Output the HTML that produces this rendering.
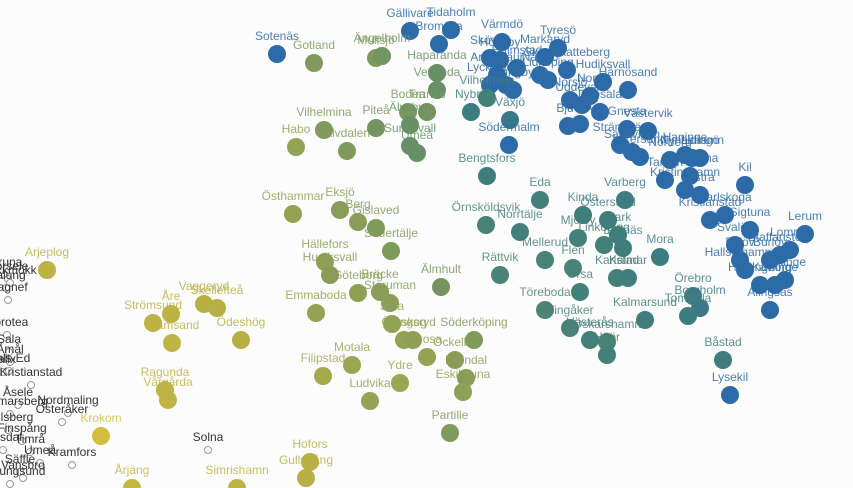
<!DOCTYPE html>
<html>
<head>
<meta charset="utf-8">
<style>
html,body{margin:0;padding:0;background:#fcfcfc;}
svg{display:block;font-family:"Liberation Sans",sans-serif;}
</style>
</head>
<body>
<svg id="chart" width="853" height="488"></svg>
<script>
const names = ["Sotenäs","Tidaholm","Gällivare","Bromölla","Värmdö","Tyresö","Markaryd","Skövde","Högsby","Halmstad","Skinnskatteberg","Nässjö","Lidköping","Arvidsjaur","Lycksele","Kumla","Ljungby","Hudiksvall","Härnösand","Nora","Norsjö","Uddevalla","Uppsala","Bjuv","Vara","Södermalm","Gnesta","Västervik","Strängnäs","Sandviken","Vikersund","Haninge","Nynäshamn","Norberg","Lidingö","Tanum","Sollentuna","Kristinehamn","Östra","Kil","Kristianstad","Karlskoga","Sigtuna","Lerum","Svalöv","Eslöv","Hallstahammar","Burlöv","Staffanstorp","Lomma","Helsingborg","Kävlinge","Vellinge","Alingsås","Lysekil",
"Nybro","Växjö","Vilhelmina2","Bengtsfors","Eda","Örnsköldsvik","Norrtälje","Rättvik","Mellerud","Kinda","Varberg","Mjölby","Östersund","Mark","Linköping","Bollnäs","Mora","Karlstad","Kalmar","Flen","Orsa","Töreboda","Vingåker","Västerås","Oskarshamn","Höör","Kalmarsund","Örebro","Tomelilla","Borgholm","Båstad",
"Gotland","Mullsjö","Ängelholm","Haparanda","Vetlanda","Tranås","Boden","Älvsbyn","Piteå","Sundsvall","Umeå","Vilhelmina","Älvdalen","Habo","Östhammar","Eksjö","Berg","Gislaved","Södertälje","Hällefors","Älmhult","Hudiksvall2","Göteborg","Bräcke","Storuman","Sala","Emmaboda","Örnskog","Tingsryd","Trosa","Söderköping","Filipstad","Motala","Ydre","Ludvika","Mölndal","Eskilstuna","Partille","Ockelbo",
"Arjeplog","Strömsund","Åre","Vaggeryd","Skellefteå","Kramsand","Ödeshög","Ragunda","Vårgårda","Krokom","Hofors","Gullspång","Årjäng","Simrishamn"];
const xs = [277,451,410,439,502,558,545,490,500,517,567,540,548,497,490,506,513,603,628,590,570,582,600,568,580,509,627,648,620,632,640,685,692,670,700,665,690,685,700,745,710,725,750,805,735,740,745,770,780,790,760,775,785,770,730,
471,510,487,487,540,486,520,500,545,583,625,578,608,618,604,623,660,617,628,573,580,545,570,590,607,607,645,693,688,700,723,
314,376,382,437,437,427,408,410,376,410,417,324,347,296,293,340,358,376,391,325,441,330,358,380,390,392,316,404,413,427,474,323,352,400,370,466,463,450,455,
47,153,171,204,217,172,241,165,168,101,310,306,132,237];
const ys = [54,30,31,44,42,48,57,58,60,68,70,75,80,75,85,85,90,82,90,96,100,105,112,126,124,145,129,131,145,152,157,155,158,160,158,180,176,190,195,185,220,215,230,234,245,260,270,260,255,250,285,285,280,310,395,
112,120,98,176,200,225,232,275,260,215,200,238,220,235,245,248,257,278,278,268,292,310,328,340,342,355,320,296,316,308,360,
63,58,56,73,90,112,112,125,128,146,153,130,151,147,214,210,222,228,251,262,287,275,293,292,303,324,313,340,340,357,340,376,365,383,401,378,392,433,360,
270,323,314,304,308,343,340,390,400,436,462,478,488,488];
const scores = [1,1,1,1,1,1,1,1,1,1,1,1,1,1,1,1,1,1,1,1,1,1,1,1,1,1,1,1,1,1,1,1,1,1,1,1,1,1,1,1,1,1,1,1,1,1,1,1,1,1,1,1,1,1,1,
0.75,0.8,0.7,0.72,0.7,0.68,0.7,0.68,0.68,0.72,0.75,0.7,0.72,0.72,0.7,0.72,0.75,0.7,0.72,0.68,0.7,0.66,0.68,0.7,0.68,0.7,0.72,0.75,0.74,0.78,0.72,
0.45,0.45,0.5,0.55,0.55,0.5,0.48,0.55,0.5,0.55,0.55,0.45,0.45,0.38,0.38,0.42,0.42,0.45,0.45,0.4,0.5,0.42,0.4,0.42,0.42,0.38,0.38,0.38,0.4,0.38,0.45,0.32,0.35,0.35,0.38,0.42,0.4,0.45,0.42,
0.22,0.22,0.22,0.25,0.25,0.2,0.25,0.2,0.2,0.05,0.25,0.25,0.15,0.2];
const grayNames = ["Kiruna","Sorsele","Jokkmokk","Malung","Gagnef","Dorotea","Sala","Åmål","Kalix","Dals-Ed","Kristianstad","Åsele","Hammarsberg","Nordmaling","Österåker","Hallsberg","Finspång","Ljusdal","Timrå","Kramfors","Umeå","Säffle","Vansbro","Stenungsund","Solna"];
const grayXs = [5,8,10,6,8,7,9,10,3,9,31,18,10,68,62,8,22,3,30,72,40,20,23,10,208];
const grayYs = [275,279,283,288,300,335,352,362,372,371,385,405,414,413,422,430,441,450,452,465,463,472,478,484,450];

const W=853,H=488;
const x = v => v/853*W;
const y = v => v/488*H;
const stops=[[0,[217,194,61]],[0.25,[185,176,69]],[0.45,[128,154,91]],[0.72,[63,126,124]],[1,[44,106,168]]];
function color(s){
  for(let i=1;i<stops.length;i++){
    if(s<=stops[i][0]){
      const a=stops[i-1],b=stops[i],t=(s-a[0])/(b[0]-a[0]);
      const c=a[1].map((v,k)=>Math.round(v+(b[1][k]-v)*t));
      return `rgb(${c[0]},${c[1]},${c[2]})`;
    }
  }
  return 'rgb(44,106,168)';
}
const svg=document.getElementById('chart');
const NS='http://www.w3.org/2000/svg';
const gGray=document.createElementNS(NS,'g');


svg.appendChild(gGray);
grayNames.forEach((n,i)=>{
  const c=document.createElementNS(NS,'circle');
  c.setAttribute('cx',x(grayXs[i]));c.setAttribute('cy',y(grayYs[i]));c.setAttribute('r',3.5);
  c.setAttribute('fill','#fff');c.setAttribute('stroke','#999');c.setAttribute('stroke-width','1');
  
  
  gGray.appendChild(c);
  const t=document.createElementNS(NS,'text');
  t.setAttribute('x',x(grayXs[i]));t.setAttribute('y',y(grayYs[i])-9);
  t.setAttribute('text-anchor','middle');t.setAttribute('font-size','12');t.setAttribute('fill','#333');
  t.textContent=n;
  
  
  gGray.appendChild(t);
});
const gPts=document.createElementNS(NS,'g');


svg.appendChild(gPts);
const gLab=document.createElementNS(NS,'g');


names.forEach((n,i)=>{
  const col=color(scores[i]);
  const c=document.createElementNS(NS,'circle');
  c.setAttribute('cx',x(xs[i]));c.setAttribute('cy',y(ys[i]));c.setAttribute('r',9);
  c.setAttribute('fill',col);
  
  
  gPts.appendChild(c);
  const t=document.createElementNS(NS,'text');
  t.setAttribute('x',x(xs[i]));t.setAttribute('y',y(ys[i])-14);
  t.setAttribute('text-anchor','middle');t.setAttribute('font-size','12');t.setAttribute('fill',col);
  t.setAttribute('opacity','0.85');
  t.textContent=n.replace(/2$/,'');
  
  
  gLab.appendChild(t);
});
svg.appendChild(gLab);
</script>
</body>
</html>
